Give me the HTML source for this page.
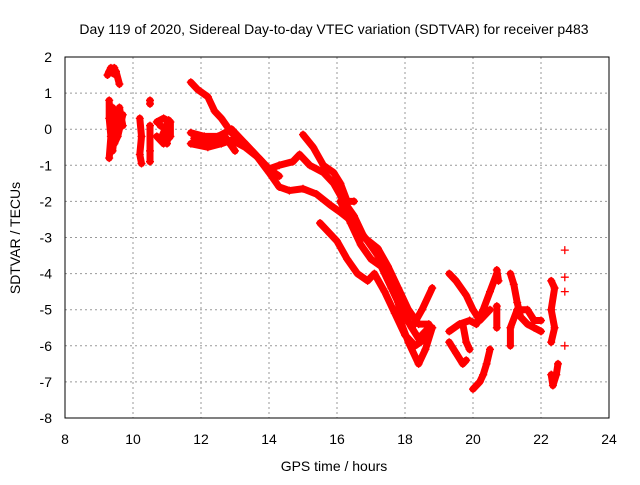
<!DOCTYPE html>
<html><head><meta charset="utf-8"><style>
body{margin:0;background:#fff}
svg text{font-family:"Liberation Sans",sans-serif;font-size:14px;fill:#000}
</style></head><body>
<svg id="c" width="640" height="480">
<text x="334" y="34" text-anchor="middle">Day 119 of 2020, Sidereal Day-to-day VTEC variation (SDTVAR) for receiver p483</text>
<text x="334" y="471" text-anchor="middle">GPS time / hours</text>
<text transform="translate(20,238) rotate(-90)" text-anchor="middle">SDTVAR / TECUs</text>
<g id="grid"></g><g id="series"></g>
<rect x="65" y="57" width="544" height="361" fill="none" stroke="#000" stroke-width="1"/>
</svg>
<script>
const xTicks=[8,10,12,14,16,18,20,22,24];
const yTicks=[2,1,0,-1,-2,-3,-4,-5,-6,-7,-8];
const tracks=[
[[9.25,1.5],[9.35,1.7],[9.5,1.6],[9.6,1.25]],
[[9.3,1.6],[9.5,1.5],[9.45,1.7]],
[[9.3,0.8],[9.3,0.3],[9.35,-0.2],[9.3,-0.8]],
[[9.4,0.6],[9.55,0.3],[9.7,0.4],[9.55,-0.2],[9.45,-0.4]],
[[9.35,0.5],[9.45,0.1],[9.6,0.6],[9.7,0.1],[9.5,0.2],[9.4,-0.6]],
[[10.2,0.3],[10.25,-0.2],[10.2,-0.7],[10.25,-0.95]],
[[10.5,0.8],[10.5,0.7]],[[10.5,0.1],[10.5,-0.6],[10.5,-0.9]],
[[10.7,0.2],[10.9,0.3],[11.1,0.2],[11.1,-0.2],[10.9,-0.4],[10.7,-0.2]],
[[10.8,0.1],[11.0,0.0],[10.85,-0.2],[11.05,0.25],[11.0,-0.4]],
[[11.7,1.3],[11.9,1.1],[12.2,0.9],[12.4,0.5],[12.6,0.3],[12.9,-0.1],[13.3,-0.4],[13.7,-0.8],[14.0,-1.1],[14.3,-1.3]],
[[11.7,-0.1],[12.1,-0.2],[12.5,-0.2],[12.9,0.0],[13.2,-0.3],[13.6,-0.7],[14.0,-1.2],[14.3,-1.6],[14.6,-1.7],[15.0,-1.65],[15.4,-1.8],[15.8,-2.1],[16.1,-2.3],[16.5,-2.6],[16.9,-3.1],[17.2,-3.5],[17.5,-3.9],[17.7,-4.5],[17.9,-5.0],[18.2,-5.5],[18.4,-5.8],[18.7,-5.5]],
[[11.7,-0.4],[12.2,-0.5],[12.6,-0.4],[12.9,-0.3],[13.3,-0.5],[13.7,-0.8],[14.0,-1.1],[14.3,-1.0],[14.7,-0.9],[14.9,-0.7],[15.2,-1.0],[15.6,-1.2],[15.9,-1.5],[16.2,-2.0],[16.5,-2.4],[16.8,-3.0],[17.2,-3.3],[17.5,-3.8],[17.8,-4.4],[18.1,-5.0],[18.4,-5.4],[18.7,-5.4]],
[[11.8,-0.25],[12.3,-0.35],[12.7,-0.2],[13.0,-0.6]],
[[15.0,-0.15],[15.3,-0.5],[15.6,-1.0],[15.9,-1.2],[16.1,-1.5],[16.3,-2.0],[16.5,-2.0]],
[[16.1,-2.0],[16.4,-2.6],[16.7,-3.2],[17.0,-3.6],[17.3,-3.8],[17.6,-4.4],[17.9,-5.0],[18.2,-5.5],[18.5,-5.0],[18.8,-4.4]],
[[15.5,-2.6],[15.8,-2.9],[16.0,-3.1],[16.3,-3.6],[16.6,-4.0],[16.9,-4.2],[17.1,-4.0],[17.4,-4.5],[17.7,-5.1],[18.0,-5.7],[18.3,-6.0],[18.6,-5.8],[18.8,-5.5]],
[[17.8,-4.8],[17.9,-5.4],[18.1,-5.9],[18.4,-6.5],[18.6,-6.1],[18.8,-5.5]],
[[19.3,-4.0],[19.5,-4.2],[19.8,-4.6],[20.0,-5.0],[20.2,-5.3],[20.5,-5.0]],
[[19.3,-5.6],[19.6,-5.4],[19.9,-5.3],[20.1,-5.4],[20.3,-5.0],[20.5,-4.5],[20.7,-4.0]],
[[19.3,-5.9],[19.5,-6.2],[19.7,-6.5],[19.8,-6.4]],
[[19.7,-5.4],[19.8,-5.9],[19.9,-6.1]],
[[20.0,-7.2],[20.2,-7.0],[20.3,-6.8],[20.4,-6.5],[20.5,-6.1]],
[[20.7,-3.9],[20.75,-4.2]],[[20.7,-4.9],[20.7,-5.5]],
[[21.1,-4.0],[21.2,-4.3],[21.3,-4.8],[21.4,-5.2],[21.6,-5.4],[21.8,-5.5],[22.0,-5.6]],
[[21.1,-6.0],[21.1,-5.5],[21.3,-5.0],[21.6,-5.0],[21.8,-5.3],[22.0,-5.3]],
[[22.3,-4.2],[22.4,-4.4],[22.3,-5.0],[22.4,-5.5],[22.3,-5.9]],
[[22.3,-6.8],[22.35,-7.1],[22.45,-6.8],[22.5,-6.5]],
[[22.7,-3.35]],[[22.7,-4.1]],[[22.7,-4.5]],[[22.7,-6.0]]
];
const X=v=>65+(v-8)*544/16, Y=v=>57+(2-v)*361/10;
const ns="http://www.w3.org/2000/svg";
const g=document.getElementById('grid'), s=document.getElementById('series');
function mk(tag,attrs,parent){const e=document.createElementNS(ns,tag);for(const k in attrs)e.setAttribute(k,attrs[k]);parent.appendChild(e);return e;}
xTicks.forEach(t=>{
 if(t>8&&t<24){const l=mk('line',{x1:X(t),x2:X(t),y1:57,y2:418,stroke:'#999','stroke-dasharray':'2,3'},g);
 
 }
 const tx=mk('text',{x:X(t),y:444,'text-anchor':'middle'},g);tx.textContent=t;
 
 
});
yTicks.forEach(t=>{
 if(t<2&&t>-8){const l=mk('line',{x1:65,x2:609,y1:Y(t),y2:Y(t),stroke:'#999','stroke-dasharray':'2,3'},g);
 
 }
 const tx=mk('text',{x:52,y:Y(t)+5,'text-anchor':'end'},g);tx.textContent=t;
 
 
});
tracks.forEach(tr=>{
 if(tr.length>1){const p=mk('polyline',{points:tr.map(q=>X(q[0])+','+Y(q[1])).join(' '),fill:'none',stroke:'#f00','stroke-width':7,'stroke-linejoin':'round','stroke-linecap':'round'},s);
 
 }
 tr.forEach(q=>{const x=X(q[0]),y=Y(q[1]);
  const m=mk('path',{d:`M${x-4},${y}H${x+4}M${x},${y-4}V${y+4}`,stroke:'#f00','stroke-width':1.3},s);
  
  });
});
</script>
</body></html>
